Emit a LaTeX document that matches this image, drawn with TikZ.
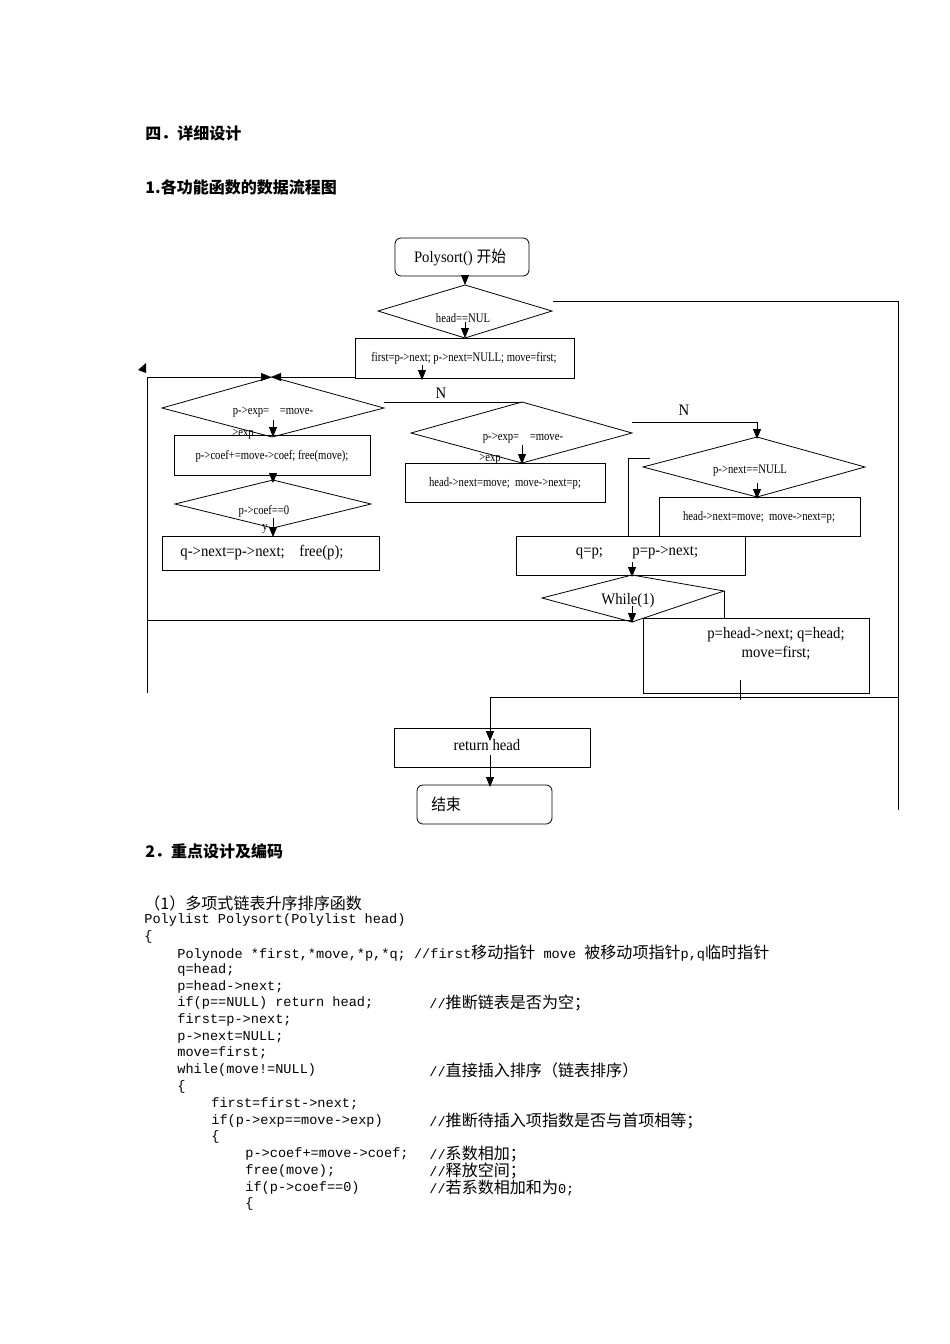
\documentclass[tikz,border=0pt]{standalone}
\usepackage{fontspec}
\setmainfont{Liberation Serif}
\newfontfamily\cjk{Noto Sans CJK SC}
\newfontfamily\cjkc{Noto Sans CJK SC}[Scale=1.18]
\newfontfamily\mono{Liberation Mono}
\usetikzlibrary{arrows.meta}
\begin{document}
\begin{tikzpicture}[x=1pt,y=-1pt,line width=0.8pt,
  arr/.style={-{Triangle[length=10pt,width=8pt]}},
  sm/.style={font=\fontsize{13}{14}\selectfont,inner sep=0pt,xscale=0.82},
  md/.style={font=\fontsize{16}{19}\selectfont,inner sep=0pt,xscale=0.92},
  hd/.style={font=\cjk\bfseries\fontsize{16}{18}\selectfont,anchor=west,inner sep=0pt},
  code/.style={anchor=west,inner sep=0pt,font=\mono\fontsize{13.6}{15}\selectfont}]
\useasboundingbox (0,0) rectangle (950,1344);
\fill[white] (0,0) rectangle (950,1344);
% headings
\node[hd] (h1) at (145,133) {四．详细设计};
\node[hd] (h2) at (145,187) {1.各功能函数的数据流程图};
\node[hd] (h3) at (145,851) {2．重点设计及编码};
% shapes
\draw[rounded corners=6pt] (395,238) rectangle (529,276);
\node[md] (start) at (460,257) {Polysort() {\cjk 开始}};
\draw (378,311)--(465,285)--(552,311)--(465,338)--cycle;
\node[sm] (d1) at (463,318) {head==NUL};
\draw (355,338) rectangle (574,378);
\node[sm] (b2) at (464,358) {first=p->next; p->next=NULL; move=first;};
\draw (162,408)--(272,377)--(384,408)--(272,437)--cycle;
\node[sm] (d3) at (273,412) {p->exp=\quad=move-};
\node[sm] (d3b) at (243,434) {>exp};
\draw (174,435) rectangle (370,475);
\node[sm] (b4) at (272,456) {p->coef+=move->coef; free(move);};
\draw (175,504)--(273,480)--(371,504)--(273,528)--cycle;
\node[sm] (d5) at (264,511) {p->coef==0};
\node[sm] (d5b) at (265,529) {y};
\draw (162,536) rectangle (379,570);
\node[md] (b6) at (262,553) {q->next=p->next;\quad free(p);};
\draw (411,433)--(522,402)--(632,433)--(522,463)--cycle;
\node[sm] (d7) at (523,438) {p->exp=\quad=move-};
\node[sm] (d7b) at (490,459) {>exp};
\draw (405,463) rectangle (605,502);
\node[sm] (b8) at (505,483) {head->next=move;\ \ move->next=p;};
\draw (643,467)--(757,437)--(865,467)--(757,497)--cycle;
\node[sm] (d9) at (750,471) {p->next==NULL};
\draw (659,497) rectangle (860,536);
\node[sm] (b10) at (759,517) {head->next=move;\ \ move->next=p;};
\draw (516,536) rectangle (745,575);
\node[md] (b11) at (637,553) {q=p;\qquad p=p->next;};
\draw (542,598)--(632,575)--(724,591)--(632,622)--cycle;
\node[md] (d12) at (628,601) {While(1)};
\draw (643,618) rectangle (869,693);
\node[md,align=center] (b13) at (776,644) {p=head->next; q=head;\\ move=first;};
\draw (394,728) rectangle (590,767);
\node[md] (b14) at (487,745) {return head};
\draw[rounded corners=6pt] (417,785) rectangle (552,824);
\node[md,anchor=west] (b15) at (431,804) {\cjk 结束};
% labels
\node[md] (n1) at (441,393) {N};
\node[md] (n2) at (684,410) {N};
% connectors
\coordinate (c1) at (465,276); \coordinate (c2) at (465,285);
\draw[arr] (c1)--(c2);
\draw[arr] (465,322)--(465,338);
\draw[arr] (422,365)--(422,380);
\draw (553,301)--(898,301)--(898,810);
\draw[arr] (147,693)--(147,377)--(271,377);
\draw[arr] (355,377)--(271,377);
\fill (138,370)--(146,363)--(146,373)--cycle;
\draw[arr] (273,420)--(273,437);
\draw[arr] (273,475)--(273,483);
\draw[arr] (273,518)--(273,537);
\draw (384,402)--(522,402);
\draw[arr] (522,445)--(522,464);
\draw[arr] (632,422)--(757,422)--(757,439);
\draw[arr] (757,483)--(757,499);
\draw (628,536)--(628,458)--(650,458);
\draw[arr] (632,562)--(632,577);
\draw (724,591)--(724,618);
\draw (147,620)--(632,620);
\draw[arr] (632,606)--(632,623);
\draw (740,680)--(740,700);
\draw[arr] (898,697)--(490,697)--(490,741);
\draw[arr] (490,755)--(490,787);
% code
\begin{scope}[every node/.style={code}]
\node at (144,903) {\cjkc （1）多项式链表升序排序函数};
\node at (144,920) {Polylist Polysort(Polylist head)};
\node at (144,937) {\{};
\node at (177,953) {Polynode *first,*move,*p,*q; //first{\cjkc 移动指针} move {\cjkc 被移动项指针}p,q{\cjkc 临时指针}};
\node at (177,970) {q=head;};
\node at (177,987) {p=head->next;};
\node at (177,1003) {if(p==NULL) return head;};
\node at (429,1003) {//{\cjkc 推断链表是否为空；}};
\node at (177,1020) {first=p->next;};
\node at (177,1037) {p->next=NULL;};
\node at (177,1053) {move=first;};
\node at (177,1070) {while(move!=NULL)};
\node at (429,1070) {//{\cjkc 直接插入排序（链表排序）}};
\node at (177,1087) {\{};
\node at (211,1104) {first=first->next;};
\node at (211,1121) {if(p->exp==move->exp)};
\node at (429,1121) {//{\cjkc 推断待插入项指数是否与首项相等；}};
\node at (211,1137) {\{};
\node at (245,1154) {p->coef+=move->coef;};
\node at (429,1154) {//{\cjkc 系数相加；}};
\node at (245,1171) {free(move);};
\node at (429,1171) {//{\cjkc 释放空间；}};
\node at (245,1188) {if(p->coef==0)};
\node at (429,1188) {//{\cjkc 若系数相加和为}0;};
\node at (245,1204) {\{};
\end{scope}
\end{tikzpicture}
\end{document}
